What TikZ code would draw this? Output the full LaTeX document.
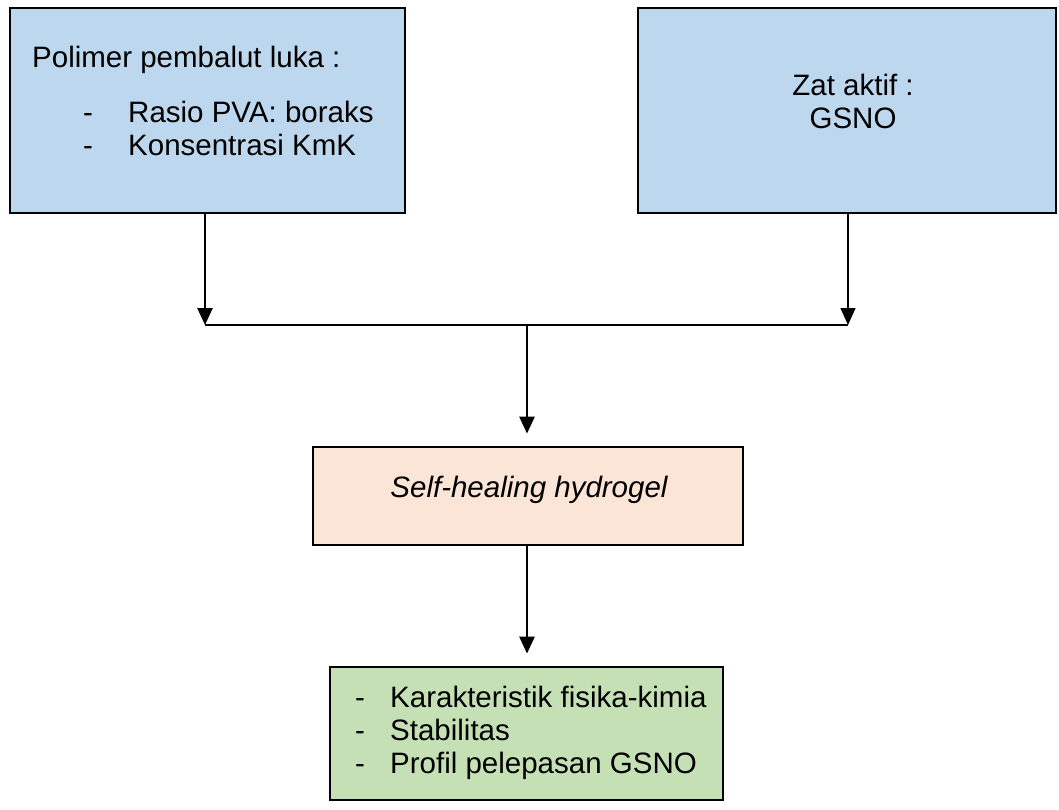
\documentclass[tikz,border=0pt]{standalone}
\usepackage{fontspec}
\setmainfont{Liberation Sans}
\usetikzlibrary{arrows.meta}
\definecolor{boxblue}{HTML}{BDD7EE}
\definecolor{boxpeach}{HTML}{FBE5D6}
\definecolor{boxgreen}{HTML}{C5E0B4}
\tikzset{
  box/.style={draw=black, line width=2.8pt, rectangle, inner sep=0pt},
  txt/.style={inner sep=0pt, anchor=base west, font=\fontsize{29.5}{33}\selectfont},
  ctxt/.style={inner sep=0pt, anchor=base, font=\fontsize{29.5}{33}\selectfont},
  conn/.style={line width=2.6pt, draw=black},
  arr/.style={conn, -{Triangle[width=15pt,length=17pt]}},
}
\begin{document}
\begin{tikzpicture}[x=1pt,y=-1pt]
\useasboundingbox (0,0) rectangle (1059,809);
% boxes
\node[box, fill=boxblue, minimum width=395pt, minimum height=205pt] (b1) at (207.5,110.5) {};
\node[box, fill=boxblue, minimum width=418pt, minimum height=205pt] (b2) at (847,110.5) {};
\node[box, fill=boxpeach, minimum width=430pt, minimum height=98pt] (b3) at (528,496) {};
\node[box, fill=boxgreen, minimum width=393pt, minimum height=133pt] (b4) at (526.5,733.5) {};
% texts box 1
\node[txt] (t1) at (32,67) {Polimer pembalut luka :};
\node[txt] (d1) at (83,122) {-};
\node[txt] (t2) at (128,122) {Rasio PVA: boraks};
\node[txt] (d2) at (83,155) {-};
\node[txt] (t3) at (128,155) {Konsentrasi KmK};
% texts box 2
\node[ctxt] (t4) at (853,95) {Zat aktif :};
\node[ctxt] (t5) at (853,128) {GSNO};
% text box 3
\node[ctxt, font=\fontsize{29.5}{33}\selectfont\itshape] (t6) at (529,497) {Self-healing hydrogel};
% texts box 4
\node[txt] (d3) at (355,707) {-};
\node[txt] (t7) at (390,707) {Karakteristik fisika-kimia};
\node[txt] (d4) at (355,740) {-};
\node[txt] (t8) at (390,740) {Stabilitas};
\node[txt] (d5) at (355,773) {-};
\node[txt] (t9) at (390,773) {Profil pelepasan GSNO};
% junction
\coordinate (jl) at (205,325);
\coordinate (jr) at (848,325);
\coordinate (jm) at (527,325);
\draw[arr] (b1.south -| jl) -- (jl);
\draw[arr, line width=1.3pt] (b2.south -| jr) -- (jr);
\draw[conn] (jl) -- (jr);
\draw[arr] (jm) -- ([yshift=12pt]b3.north -| jm);
\draw[arr] (b3.south -| jm) -- ([yshift=12pt]b4.north -| jm);
\end{tikzpicture}
\end{document}
